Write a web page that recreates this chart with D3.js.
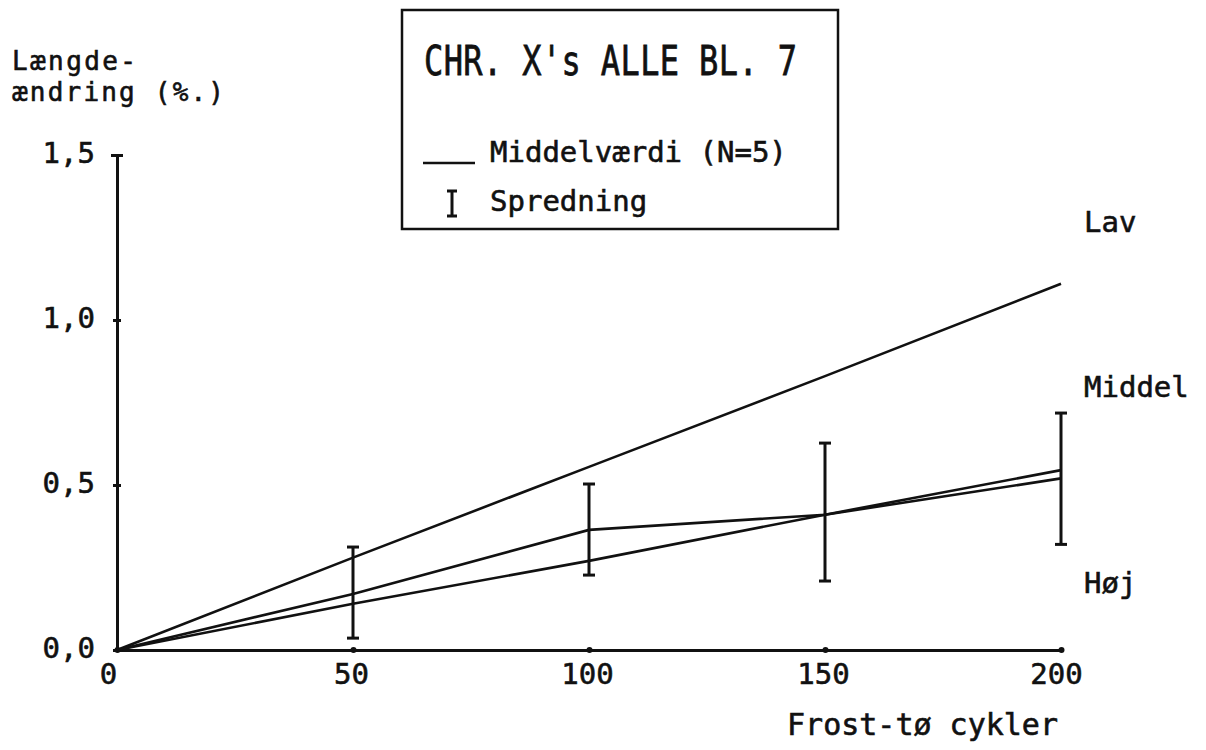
<!DOCTYPE html>
<html>
<head>
<meta charset="utf-8">
<script src="https://cdn.jsdelivr.net/npm/d3@7"></script>
<style>
  body { margin: 0; background: #fff; }
  text { font-family: "DejaVu Sans Mono", monospace; fill: #111; stroke: #111; stroke-width: 0.6px; }
</style>
</head>
<body>
<svg></svg>
<script>
// data
var cycles = [0, 50, 100, 150, 200]
var lav    = [0, 0.28, 0.555, 0.83, 1.11]
var middel = [0, 0.17, 0.364, 0.41, 0.52]
var hoej   = [0, 0.14, 0.27, 0.41, 0.545]
var errLow  = [null, 0.036, 0.227, 0.209, 0.32]
var errHigh = [null, 0.312, 0.503, 0.627, 0.718]
var xTicks = [0, 50, 100, 150, 200]
var yTicks = [0, 0.5, 1.0, 1.5]

var width = 1206
var height = 750

var svg = d3.select("svg")
    .attr("width", width)
    .attr("height", height)

var x = d3.scaleLinear().domain([0, 200]).range([117, 1061])
var y = d3.scaleLinear().domain([0, 1.5]).range([650, 155])

// axes
var yAxis = d3.axisLeft(y)
    .tickValues(yTicks)
    .tickSize(0)
    .tickPadding(22)
    .tickFormat(function(d) { return d3.format(".1f")(d).replace(".", ","); })

var gy = svg.append("g")
    .attr("transform", "translate(" + x(0) + ",0)")
    .call(yAxis)
gy.select(".domain").attr("stroke", "#111").attr("stroke-width", 3)
gy.selectAll("text")
    .attr("font-size", 29)
    .attr("dy", "0.25em")
    .style("font-family", "DejaVu Sans Mono")

// little cross ticks on y
gy.selectAll(".tick").append("line")
    .attr("x1", function(d) { return d == 1.5 ? -6 : -4 })
    .attr("x2", function(d) { return d == 1.5 ? 6 : 4 })
    .attr("stroke", "#111")
    .attr("stroke-width", 3)

var xAxis = d3.axisBottom(x)
    .tickValues(xTicks)
    .tickSize(0)
    .tickPadding(12)

var gx = svg.append("g")
    .attr("transform", "translate(0," + y(0) + ")")
    .call(xAxis)
gx.select(".domain").attr("stroke", "#111").attr("stroke-width", 3)
gx.selectAll("text")
    .attr("font-size", 29)
    .attr("dy", "0.75em")
    .attr("dx", function(d) { return d == 0 ? -9 : (d == 200 ? -5 : -2) })
    .style("font-family", "DejaVu Sans Mono")
gx.selectAll(".tick").append("circle")
    .attr("r", 3)
    .attr("fill", "#111")

// lines
var line = d3.line()
    .x(function(d, i) { return x(cycles[i]) })
    .y(function(d) { return y(d) })

var series = [lav, middel, hoej]
svg.append("g")
    .selectAll("path")
    .data(series)
    .enter().append("path")
    .attr("d", line)
    .attr("fill", "none")
    .attr("stroke", "#111")
    .attr("stroke-width", 2.6)

// error bars (spredning)
var bars = cycles.map(function(c, i) {
    return { x: c, lo: errLow[i], hi: errHigh[i] }
}).filter(function(d) { return d.lo != null })

var eb = svg.append("g")
    .selectAll("g")
    .data(bars)
    .enter().append("g")
    .attr("stroke", "#111")
    .attr("stroke-width", 3)

eb.append("line")
    .attr("x1", function(d) { return x(d.x) })
    .attr("x2", function(d) { return x(d.x) })
    .attr("y1", function(d) { return y(d.lo) })
    .attr("y2", function(d) { return y(d.hi) })
eb.append("line")
    .attr("x1", function(d) { return x(d.x) - 6 })
    .attr("x2", function(d) { return x(d.x) + 6 })
    .attr("y1", function(d) { return y(d.hi) })
    .attr("y2", function(d) { return y(d.hi) })
eb.append("line")
    .attr("x1", function(d) { return x(d.x) - 6 })
    .attr("x2", function(d) { return x(d.x) + 6 })
    .attr("y1", function(d) { return y(d.lo) })
    .attr("y2", function(d) { return y(d.lo) })

// series labels at the right
var seriesLabels = ["Lav", "Middel", "Høj"]
var labelY = [232, 397, 593]
svg.selectAll(".slabel")
    .data(seriesLabels)
    .enter().append("text")
    .attr("class", "slabel")
    .attr("x", 1084)
    .attr("y", function(d, i) { return labelY[i] })
    .attr("font-size", 29)
    .text(function(d) { return d })

// axis titles
svg.append("text")
    .attr("x", 12).attr("y", 70)
    .attr("font-size", 26)
    .attr("textLength", 124)
    .text("Længde-")
svg.append("text")
    .attr("x", 12).attr("y", 101)
    .attr("font-size", 26)
    .attr("textLength", 212)
    .text("ændring (%.)")
svg.append("text")
    .attr("x", 1058).attr("y", 735)
    .attr("text-anchor", "end")
    .attr("font-size", 30)
    .text("Frost-tø cykler")

// legend box with title
svg.append("rect")
    .attr("x", 402).attr("y", 10)
    .attr("width", 436).attr("height", 219)
    .attr("fill", "none")
    .attr("stroke", "#111")
    .attr("stroke-width", 2.5)

svg.append("text")
    .attr("transform", "translate(424,75) scale(1,1.3)")
    .attr("font-size", 32)
    .attr("textLength", 373)
    .text("CHR. X's ALLE BL. 7")

svg.append("line")
    .attr("x1", 423).attr("x2", 475)
    .attr("y1", 163).attr("y2", 163)
    .attr("stroke", "#111").attr("stroke-width", 2.5)
svg.append("text")
    .attr("x", 490).attr("y", 162)
    .attr("font-size", 29)
    .text("Middelværdi (N=5)")

svg.append("line").attr("x1", 452).attr("x2", 452).attr("y1", 191).attr("y2", 216)
    .attr("stroke", "#111").attr("stroke-width", 3)
svg.append("line").attr("x1", 447).attr("x2", 457).attr("y1", 191).attr("y2", 191)
    .attr("stroke", "#111").attr("stroke-width", 3)
svg.append("line").attr("x1", 447).attr("x2", 457).attr("y1", 216).attr("y2", 216)
    .attr("stroke", "#111").attr("stroke-width", 3)
svg.append("text")
    .attr("x", 490).attr("y", 211)
    .attr("font-size", 29)
    .text("Spredning")
</script>
</body>
</html>
